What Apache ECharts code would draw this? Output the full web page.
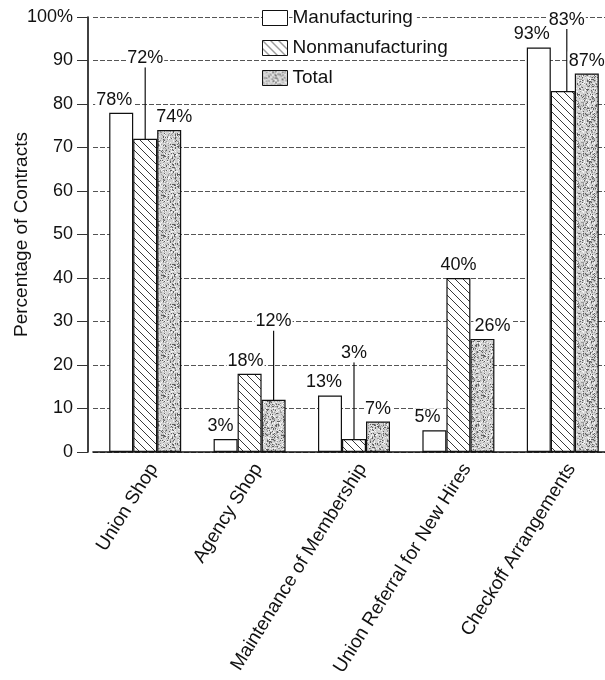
<!DOCTYPE html>
<html>
<head>
<meta charset="utf-8">
<script src="https://cdn.jsdelivr.net/npm/echarts@6/dist/echarts.min.js"></script>
<style>html,body{margin:0;padding:0;background:#fff;overflow:hidden}#c{width:605px;height:680px}</style>
</head>
<body>
<div id="c"></div>
<script>
// ---- data ----
var categories = ['Union Shop', 'Agency Shop', 'Maintenance of Membership', 'Union Referral for New Hires', 'Checkoff Arrangements'];
var seriesNames = ['Manufacturing', 'Nonmanufacturing', 'Total'];
var manufacturing = [78, 3, 13, 5, 93];
var nonmanufacturing = [72, 18, 3, 40, 83];
var total = [74, 12, 7, 26, 87];
var yMin = 0, yMax = 100, yInterval = 10;

// ---- label placement (layout, not data) ----
var labelPlacement = [
  [{dx: -7}, {dx: -5}, {dx: -6}, {dx: -7}, {dx: -7}],
  [{at: 90.5}, {dx: -4}, {at: 22.7}, {}, {at: 99.3, dx: 4}],
  [{dx: 5}, {at: 30}, {}, {dx: 10}, {}]
];

var GRID = {left: 93, top: 17, width: 522, height: 435};
function yPix(v) { return GRID.top + GRID.height * (1 - (v - yMin) / (yMax - yMin)); }

// ---- patterns ----
function hatchPattern() {
  var c = document.createElement('canvas'); c.width = 8; c.height = 8;
  var g = c.getContext('2d');
  g.fillStyle = '#fff'; g.fillRect(0, 0, 8, 8);
  g.strokeStyle = '#222'; g.lineWidth = 0.9;
  g.beginPath();
  g.moveTo(-1, -1); g.lineTo(9, 9);
  g.moveTo(-1, 7); g.lineTo(1, 9);
  g.moveTo(7, -1); g.lineTo(9, 1);
  g.stroke();
  return c;
}
function stipplePattern() {
  var n = 40;
  var c = document.createElement('canvas'); c.width = n; c.height = n;
  var g = c.getContext('2d');
  g.fillStyle = '#d2d2d2'; g.fillRect(0, 0, n, n);
  var s = 12345;
  function rnd() { s = (s * 1103515245 + 12345) & 0x7fffffff; return s / 0x7fffffff; }
  for (var i = 0; i < n * n * 0.55; i++) {
    var x = Math.floor(rnd() * n), y = Math.floor(rnd() * n);
    var r = rnd();
    g.fillStyle = r < 0.3 ? '#5f5f5f' : (r < 0.65 ? '#9c9c9c' : '#f4f4f4');
    g.fillRect(x, y, 1, 1);
  }
  return c;
}

var fills = [
  '#ffffff',
  {image: hatchPattern(), repeat: 'repeat'},
  {image: stipplePattern(), repeat: 'repeat'}
];
var values = [manufacturing, nonmanufacturing, total];
var FONT = 'Liberation Sans, Arial, Helvetica, sans-serif';

var series = seriesNames.map(function (name, si) {
  return {
    name: name,
    type: 'bar',
    barWidth: 24,
    barGap: '0%',
    data: values[si].map(function (v, di) {
      var p = labelPlacement[si][di];
      var item = {value: v};
      if (p.at != null) item.labelLine = {show: true};
      return item;
    }),
    itemStyle: {color: fills[si], borderColor: '#111', borderWidth: 1.2},
    label: {
      show: true, position: 'top', distance: 4,
      formatter: '{c}%', color: '#111', fontFamily: FONT, fontSize: 18,
      backgroundColor: '#fff', padding: [0, 1]
    },
    labelLine: {show: false, lineStyle: {color: '#111', width: 1.2}},
    labelLayout: function (params) {
      var p = labelPlacement[si][params.dataIndex] || {};
      var out = {dx: p.dx || 0, dy: 0};
      if (p.at != null) {
        var target = yPix(p.at);
        out.dy = target - (params.labelRect.y + params.labelRect.height / 2);
        var cx = params.rect.x + params.rect.width / 2;
        out.labelLinePoints = [[cx, target + params.labelRect.height / 2 - 1], [cx, params.rect.y], [cx, params.rect.y]];
      }
      return out;
    },
    emphasis: {disabled: true}
  };
});

var chart = echarts.init(document.getElementById('c'), null, {renderer: 'canvas'});
chart.setOption({
  animation: false,
  backgroundColor: '#fff',
  grid: {left: GRID.left, top: GRID.top, width: GRID.width, height: GRID.height, containLabel: false, outerBoundsMode: 'none'},
  legend: {
    orient: 'vertical', left: 262, top: 7, padding: 0,
    itemWidth: 25, itemHeight: 15, itemGap: 8, icon: 'rect',
    data: seriesNames,
    textStyle: {fontFamily: FONT, fontSize: 19, color: '#111', backgroundColor: '#fff', padding: [2, 4, 2, 0], lineHeight: 18},
    itemStyle: {borderColor: '#111', borderWidth: 1},
    selectedMode: false
  },
  xAxis: {
    type: 'category', data: categories,
    axisLine: {lineStyle: {color: '#111', width: 1.6}},
    axisTick: {show: false},
    axisLabel: {rotate: 58, interval: 0, margin: 8, verticalAlign: 'top', lineHeight: 20, color: '#111', fontFamily: FONT, fontSize: 19},
    splitLine: {show: false}
  },
  yAxis: {
    type: 'value', min: yMin, max: yMax, interval: yInterval, offset: 5,
    name: 'Percentage of Contracts', nameLocation: 'middle', nameRotate: 90, nameGap: 57,
    nameMoveOverlap: false,
    nameTextStyle: {fontFamily: FONT, fontSize: 19, color: '#111'},
    axisLine: {show: true, lineStyle: {color: '#111', width: 1.6}},
    axisTick: {show: true, length: 11, lineStyle: {color: '#333', width: 1}},
    axisLabel: {
      margin: 15, color: '#111', fontFamily: FONT, fontSize: 18,
      formatter: function (v) { return v === yMax ? v + '%' : String(v); }
    },
    splitLine: {show: true, lineStyle: {color: '#555', width: 1, type: [5, 2]}}
  },
  series: series
});
</script>
</body>
</html>
